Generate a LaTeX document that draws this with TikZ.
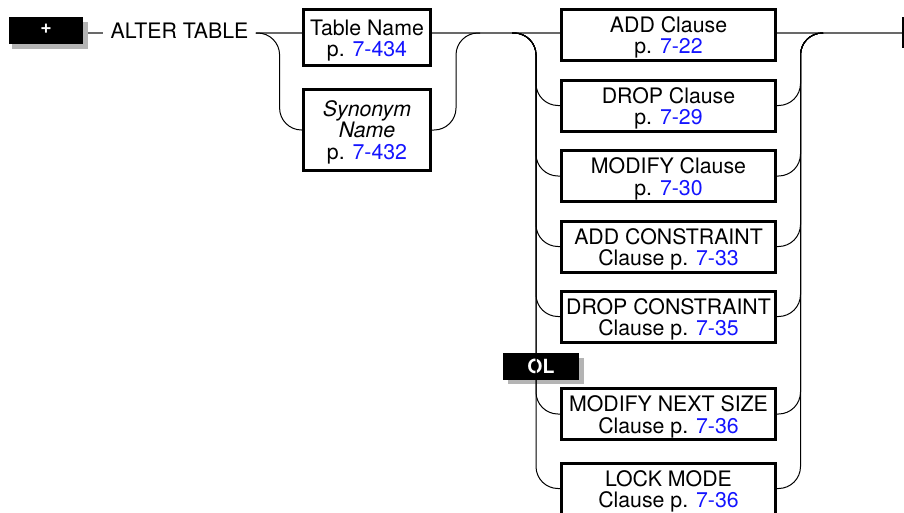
\documentclass[tikz,border=0pt]{standalone}
\usepackage{fontspec}
\setmainfont{TeX Gyre Heros}
\usetikzlibrary{calc}
\definecolor{linkblue}{RGB}{20,20,255}
\definecolor{railgray}{RGB}{105,105,105}
\definecolor{shadowgray}{RGB}{180,180,180}
\newcommand{\pg}[1]{\textcolor{linkblue}{#1}}
\begin{document}
\begin{tikzpicture}[x=1pt,y=-1pt,
  boxtext/.style={font=\fontsize{21.3}{21.5}\selectfont},
  synbox/.style={draw, line width=3pt, inner sep=0pt},
  clausebox/.style={synbox, minimum width=214pt, minimum height=51pt},
  boxlabel/.style={boxtext, inner sep=0pt, align=center, yshift=-3pt},
  mainline/.style={railgray, line width=1.6pt},
  rail/.style={black, line width=1pt, rounded corners=22pt},
  tagbox/.style={fill=black, text=white, inner sep=0pt,
    font=\fontsize{19.5}{20}\bfseries\selectfont},
  tagshadow/.style={fill=shadowgray, inner sep=0pt}]
\useasboundingbox (0,0) rectangle (904,512);

% "+" marker with its shadow
\node[tagshadow, minimum width=76pt, minimum height=27pt] (plusshadow) at (50,35.5) {};
\node[tagbox, minimum width=74pt, minimum height=27pt] (plus) at (46,30.5) {\raisebox{4pt}{+}};

% keyword
\node[boxtext, inner xsep=7pt, inner ysep=0pt, text height=15.2pt, text depth=5.2pt]
  (alter) at (179.5,33) {ALTER TABLE};

% table or synonym
\node[synbox, minimum width=127pt, minimum height=56pt] (tn) at (367,37.5) {};
\node[synbox, minimum width=127pt, minimum height=81pt] (syn) at (367,130) {};
\node[boxlabel] (tnl) at (tn.center) {Table Name\\p. \pg{7-434}};
\node[boxlabel, yshift=1pt] (synl) at (syn.center) {\itshape Synonym\\\itshape Name\\p. \pg{7-432}};

% clauses
\node[clausebox] (add)    at (668.5,34.5)  {};
\node[clausebox] (drop)   at (668.5,105.5) {};
\node[clausebox] (modify) at (668.5,176)   {};
\node[clausebox] (addc)   at (668.5,246.5) {};
\node[clausebox] (dropc)  at (668.5,316.5) {};
\node[clausebox] (mns)    at (668.5,414)   {};
\node[clausebox] (lock)   at (668.5,488.5) {};
\node[boxlabel] (addl)    at (add.center)    {ADD Clause\\p. \pg{7-22}};
\node[boxlabel] (dropl)   at (drop.center)   {DROP Clause\\p. \pg{7-29}};
\node[boxlabel] (modifyl) at (modify.center) {MODIFY Clause\\p. \pg{7-30}};
\node[boxlabel] (addcl)   at (addc.center)   {ADD CONSTRAINT\\Clause p. \pg{7-33}};
\node[boxlabel] (dropcl)  at (dropc.center)  {DROP CONSTRAINT\\Clause p. \pg{7-35}};
\node[boxlabel] (mnsl)    at (mns.center)    {MODIFY NEXT SIZE\\Clause p. \pg{7-36}};
\node[boxlabel] (lockl)   at (lock.center)   {LOCK MODE\\Clause p. \pg{7-36}};

% "OL" marker with its shadow
\node[tagshadow, minimum width=76pt, minimum height=26pt] (olshadow) at (546,371) {};
\node[tagbox, minimum width=76pt, minimum height=27pt] (ol) at (541,366.5) {OL};

% end of statement
\node[fill=black, inner sep=0pt, minimum width=1.8pt, minimum height=31pt] (stop) at (903,32.5) {};

% junction points on the main line
\coordinate (j1) at (480,33);
\coordinate (j2) at (512,33);
\coordinate (j3) at (823,33);

% main line
\draw[mainline] (alter.west -| plusshadow.east) -- (alter.west);
\draw[mainline] (alter.east) -- (alter.east -| tn.west);
\draw[mainline] (alter.east -| tn.east) -- (alter.east -| add.west);
\draw[mainline] (alter.east -| add.east) -- (alter.east -| stop.west);

% branch to the synonym
\draw[rail] (alter.east) -- ++(24,0) |- (syn.west);
\draw[rail] (syn.east) -- ++(24,0) |- (j1);

% branches to the clauses
\foreach \n in {drop,modify,addc,dropc,mns,lock}{
  \draw[rail] (j2) -- ++(24,0) |- (\n.west);
  \draw[rail] (\n.east) -- ++(23.5,0) |- (j3);
}
\end{tikzpicture}
\end{document}
